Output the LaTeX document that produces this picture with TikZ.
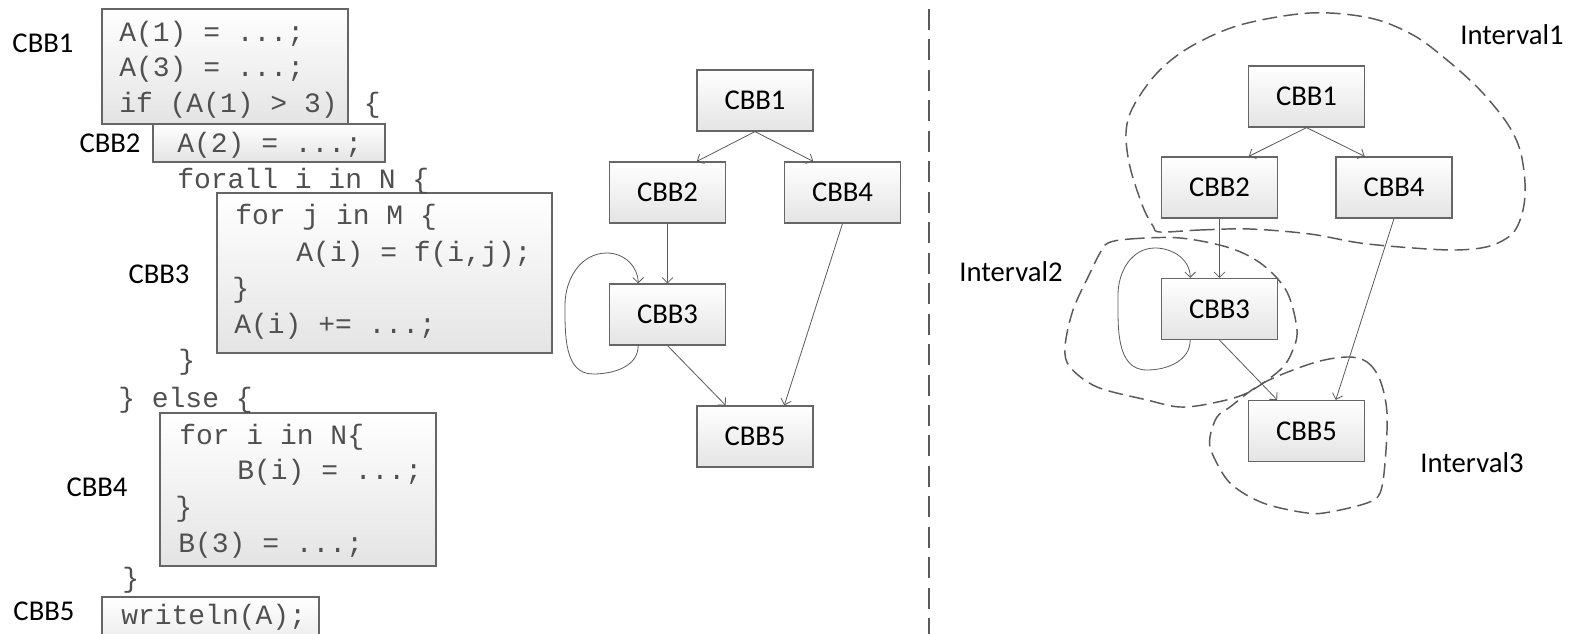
\documentclass[tikz,border=0pt]{standalone}
\usepackage{fontspec}
\setmainfont{Carlito}
\newfontfamily\codefont{Liberation Mono}
\usetikzlibrary{arrows.meta,calc,shadings}
\definecolor{linecol}{HTML}{5A5A5A}
\definecolor{boxcol}{HTML}{666666}
\definecolor{codecol}{HTML}{505050}
\definecolor{shadecol}{HTML}{E4E4E4}
\tikzset{
  gbox/.style={draw=boxcol, line width=0.9pt, top color=white, bottom color=shadecol,
    minimum height=45.75pt, minimum width=87pt, inner sep=0pt, font=\fontsize{21.5}{26}\selectfont},
  codebox/.style={draw=boxcol, line width=0.9pt, top color=white, bottom color=shadecol},
  code/.style={anchor=base west, inner sep=0pt, text=codecol, font=\codefont\fontsize{21}{26}\selectfont},
  lab/.style={inner sep=0pt, font=\fontsize{21.5}{26}\selectfont},
  edge/.style={draw=linecol, line width=0.6pt, -{Straight Barb[length=4pt,width=8pt]}},
  blob/.style={draw=linecol, line width=1.1pt, dash pattern=on 11pt off 5pt},
}
\begin{document}
\begin{tikzpicture}[x=0.75pt,y=-0.75pt]
\useasboundingbox (0,0) rectangle (1579,634);

% ---------- code boxes ----------
\path[codebox] (102,9) rectangle (348,124);
\path[codebox] (153,124) rectangle (385,162);
\path[codebox] (217,193) rectangle (552,353);
\path[codebox] (160,413) rectangle (436,566);
\path[codebox] (102,597) rectangle (319,660);

% ---------- code text ----------
\node[code] (c1) at (119,42) {A(1) = ...;};
\node[code] (c2) at (119,77) {A(3) = ...;};
\node[code] (c3) at (119,113) {if (A(1) > 3)\kern7pt\ \{};
\node[code] (c4) at (177,153) {A(2) = ...;};
\node[code] (c5) at (177,189) {forall i in N \{};
\node[code] (c6) at (235,225) {for j in M \{};
\node[code] (c7) at (296,262) {A(i) = f(i,j);};
\node[code] (c8) at (232,298) {\}};
\node[code] (c9) at (234,334) {A(i) += ...;};
\node[code] (c10) at (178,370) {\}};
\node[code] (c11) at (118,408) {\} else \{};
\node[code] (c12) at (179,445) {for i in N\{};
\node[code] (c13) at (237,480) {B(i) = ...;};
\node[code] (c14) at (175,517) {\}};
\node[code] (c15) at (178,553) {B(3) = ...;};
\node[code] (c16) at (122,588) {\}};
\node[code] (c17) at (121,624) {writeln(A);};

% ---------- code labels ----------
\node[lab] (k1) at (43,43) {CBB1};
\node[lab] (k2) at (110,143) {CBB2};
\node[lab] (k3) at (159,274) {CBB3};
\node[lab] (k4) at (97,487) {CBB4};
\node[lab] (k5) at (44,611) {CBB5};

% ---------- left graph ----------
\node[gbox] (l1) at (755,100.5) {CBB1};
\node[gbox] (l2) at (667.5,192.5) {CBB2};
\node[gbox] (l4) at (842.5,192.5) {CBB4};
\node[gbox] (l3) at (667.5,314.5) {CBB3};
\node[gbox] (l5) at (755,436.5) {CBB5};

\draw[edge] (l1.south) -- ($(l2.north)!0.5!(l2.north east)$);
\draw[edge] (l1.south) -- ($(l4.north)!0.5!(l4.north west)$);
\draw[edge] (l2.south) -- (l3.north);
\draw[edge] ($(l3.south)!0.5!(l3.south west)$) to[out=-90,in=0] (593,374)
   to[out=180,in=-90] (565,305) to[out=90,in=180] (607,253)
   to[out=0,in=90] ($(l3.north)!0.5!(l3.north west)$);
\draw[edge] (l3.south) -- ($(l5.north)!0.5!(l5.north west)$);
\draw[edge] (l4.south) -- ($(l5.north)!0.5!(l5.north east)$);

% ---------- separator ----------
\draw[draw=linecol, line width=1.5pt, dash pattern=on 15.75pt off 7.1pt] (929,-21.5) -- (929,660);

% ---------- right graph ----------
\node[gbox] (r1) at (1306.5,96.5) {CBB1};
\node[gbox] (r2) at (1219.5,187.5) {CBB2};
\node[gbox] (r4) at (1394,187.5) {CBB4};
\node[gbox] (r3) at (1219.5,309) {CBB3};
\node[gbox] (r5) at (1306.5,431) {CBB5};

\draw[edge] (r1.south) -- ($(r2.north)!0.5!(r2.north east)$);
\draw[edge] (r1.south) -- ($(r4.north)!0.5!(r4.north west)$);
\draw[edge] (r2.south) -- (r3.north);
\draw[edge] ($(r3.south)!0.5!(r3.south west)$) to[out=-90,in=0] (1147,370)
   to[out=180,in=-90] (1118,295) to[out=90,in=180] (1155,248)
   to[out=0,in=90] ($(r3.north)!0.5!(r3.north west)$);
\draw[edge] (r3.south) -- ($(r5.north)!0.5!(r5.north west)$);
\draw[edge] (r4.south) -- ($(r5.north)!0.5!(r5.north east)$);

% ---------- intervals ----------
\draw[blob] plot[smooth cycle, tension=0.55] coordinates {
  (1160,232) (1200,230) (1250,229) (1310,234) (1360,243) (1413,248) (1457,250)
  (1490,246) (1513,233) (1523,210) (1525,183) (1520,150) (1507,123) (1480,90)
  (1447,60) (1413,35) (1370,18) (1310,13) (1240,25) (1190,47) (1157,73)
  (1133,107) (1126,133) (1130,167) (1143,207) (1153,226)};
\draw[blob] plot[smooth cycle, tension=0.55] coordinates {
  (1108,243) (1130,239) (1180,238) (1230,248) (1263,265) (1287,292) (1297,330)
  (1292,352) (1280,370) (1247,393) (1213,403) (1180,407) (1147,400) (1097,387)
  (1070,367) (1065,347) (1073,310) (1090,273) (1100,253)};
\draw[blob] plot[smooth cycle, tension=0.55] coordinates {
  (1347,357) (1367,362) (1380,380) (1387,413) (1385,463) (1380,493) (1367,503)
  (1330,512) (1307,513) (1263,503) (1230,483) (1212,453) (1210,437) (1217,417)
  (1230,407) (1263,383) (1313,363)};

\node[lab] (i1) at (1512,35) {Interval1};
\node[lab] (i2) at (1011,272) {Interval2};
\node[lab] (i3) at (1472,463) {Interval3};
\end{tikzpicture}
\end{document}
